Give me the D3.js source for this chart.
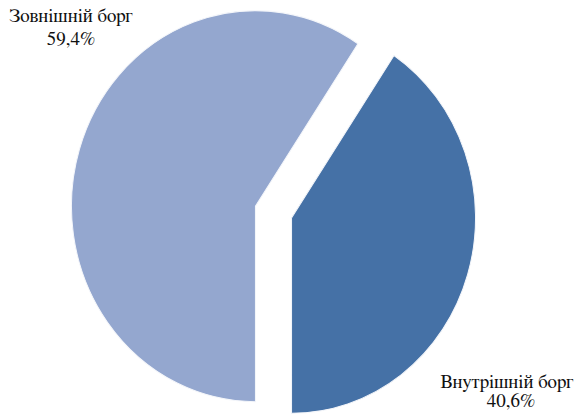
<!DOCTYPE html>
<html>
<head>
<meta charset="utf-8">
<script src="https://cdn.jsdelivr.net/npm/d3@7"></script>
<style>
  html, body { margin: 0; padding: 0; background: #ffffff; }
  svg { display: block; }
  text { font-family: "FreeSerif", "DejaVu Serif", serif; }
</style>
</head>
<body>
<script>
const categories = ["Зовнішній борг", "Внутрішній борг"];
const values = [59.4, 40.6];
const valueLabels = ["59,4%", "40,6%"];
const colors = ["#94A7CF", "#4571A6"];

const W = 578, H = 416;
const cx = 273.5, cy = 212, r = 184, sy = 195.5 / 184;
const explode = 0.1025 * r;

const svg = d3.select("body").append("svg").attr("width", W).attr("height", H);

const pie = d3.pie().sort(null).startAngle(Math.PI).endAngle(3 * Math.PI);
const arcs = pie(values);
const arc = d3.arc().innerRadius(0).outerRadius(r);

const g = svg.append("g").attr("transform", `translate(${cx},${cy}) scale(1,${sy})`);

g.selectAll("path").data(arcs).enter().append("path")
  .attr("d", arc)
  .attr("fill", (d, i) => colors[i])
  .attr("stroke", "#f4f6fa")
  .attr("stroke-width", 1)
  .attr("transform", d => {
    const a = (d.startAngle + d.endAngle) / 2;
    return `translate(${explode * Math.sin(a)},${-explode * Math.cos(a)})`;
  });

const labelPos = [[71, 22], [507, 388]];
categories.forEach((c, i) => {
  const t = svg.append("text")
    .attr("x", labelPos[i][0]).attr("y", labelPos[i][1])
    .attr("text-anchor", "middle")
    .attr("font-size", 19).attr("fill", "#111");
  t.append("tspan").attr("x", labelPos[i][0]).text(c);
  t.append("tspan").attr("x", labelPos[i][0] + (i === 1 ? 4 : 0)).attr("dy", i === 0 ? 23 : 19).text(valueLabels[i]);
});
</script>
</body>
</html>
